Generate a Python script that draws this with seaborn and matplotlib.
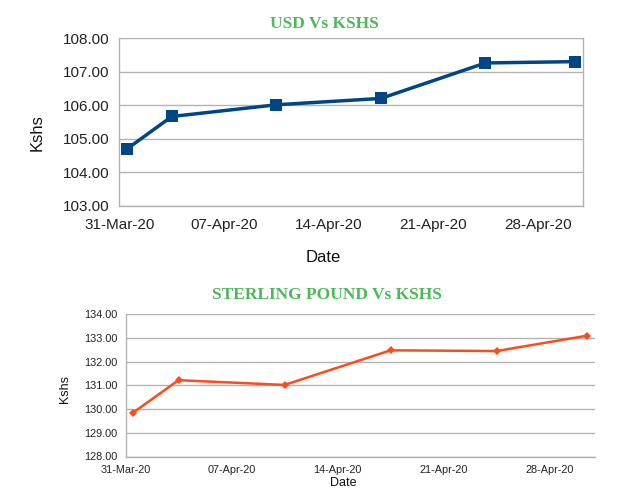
import matplotlib
matplotlib.use("Agg")
import matplotlib.pyplot as plt
import matplotlib.dates as mdates
import seaborn as sns
import pandas as pd

# valores
datas = ["2020-03-31", "2020-04-03", "2020-04-10", "2020-04-17", "2020-04-24", "2020-04-30"]
usd_kshs = [104.69, 105.66, 106.01, 106.20, 107.26, 107.30]
gbp_kshs = [129.85, 131.22, 131.02, 132.48, 132.45, 133.10]
ticks_datas = ["2020-03-31", "2020-04-07", "2020-04-14", "2020-04-21", "2020-04-28"]
ticks_usd = [103, 104, 105, 106, 107, 108]
ticks_gbp = [128, 129, 130, 131, 132, 133, 134]

sns.set_style("white")
plt.rcParams['font.family'] = ['Liberation Sans', 'DejaVu Sans']

# o LibreOffice desenha cada ponto no meio do dia
x = pd.to_datetime(datas) + pd.Timedelta(hours=12)
df = pd.DataFrame({"Date": x, "USD": usd_kshs, "GBP": gbp_kshs})

verde = "#4cb85a"
cinza = "#b3b3b3"
W, H = 633, 499

fig = plt.figure(figsize=(W / 100, H / 100), dpi=100)


def formatar(ax, yticks, fs, ylen, xlen, ypad, xpad, right_spine):
    ax.set_xlim(pd.Timestamp("2020-03-31"), pd.Timestamp("2020-05-01"))
    ax.set_ylim(yticks[0], yticks[-1])
    ax.set_yticks(yticks)
    ax.set_yticklabels([f"{v:.2f}" for v in yticks])
    ax.set_xticks(pd.to_datetime(ticks_datas))
    ax.xaxis.set_major_formatter(mdates.DateFormatter("%d-%b-%y"))
    ax.grid(axis="y", color=cinza, linewidth=1)
    ax.grid(axis="x", visible=False)
    ax.set_axisbelow(True)
    for lado in ["left", "bottom", "top", "right"]:
        ax.spines[lado].set_color(cinza)
        ax.spines[lado].set_linewidth(1)
    ax.spines["top"].set_visible(False)
    ax.spines["right"].set_visible(right_spine)
    ax.tick_params(axis="both", width=1, color=cinza, labelsize=fs, labelcolor="#222222")
    ax.tick_params(axis="y", length=ylen, pad=ypad)
    ax.tick_params(axis="x", length=xlen, pad=xpad)
    ax.set_xlabel("")
    ax.set_ylabel("")


def rotulo(px, py, texto, fs, rot=0):
    fig.text(px / W, 1 - py / H, texto, ha="center", va="center", fontsize=fs,
             rotation=rot, color="#111111")


# Gráfico USD
ax1 = fig.add_axes([119.5 / W, 1 - 205.5 / H, 463 / W, 167.3 / H])
sns.lineplot(data=df, x="Date", y="USD", ax=ax1, color="#004586", linewidth=2.5,
             marker="s", markersize=8.5, markeredgewidth=0)
formatar(ax1, ticks_usd, 11, 5, 5, 2.5, 4, True)
fig.text(324 / W, 1 - 24 / H, "USD Vs KSHS", ha="center", va="center",
         fontsize=12.5, fontweight="bold", color=verde, family="Liberation Serif")
rotulo(37, 133, "Kshs", 12, 90)
rotulo(323, 257, "Date", 12)

# Gráfico Libra
ax2 = fig.add_axes([125.5 / W, 1 - 456.5 / H, 469.5 / W, 142.2 / H])
sns.lineplot(data=df, x="Date", y="GBP", ax=ax2, color="#ff4a1a", linewidth=1.8,
             marker="D", markersize=4.5, markeredgewidth=0)
formatar(ax2, ticks_gbp, 7.8, 3.6, 3, 2, 3, False)
fig.text(327 / W, 1 - 295 / H, "STERLING POUND Vs KSHS", ha="center", va="center",
         fontsize=12.5, fontweight="bold", color=verde, family="Liberation Serif")
rotulo(65, 389, "Kshs", 9, 90)
rotulo(343, 483, "Date", 9)

fig.savefig("out.png", dpi=100)
plt.close(fig)
